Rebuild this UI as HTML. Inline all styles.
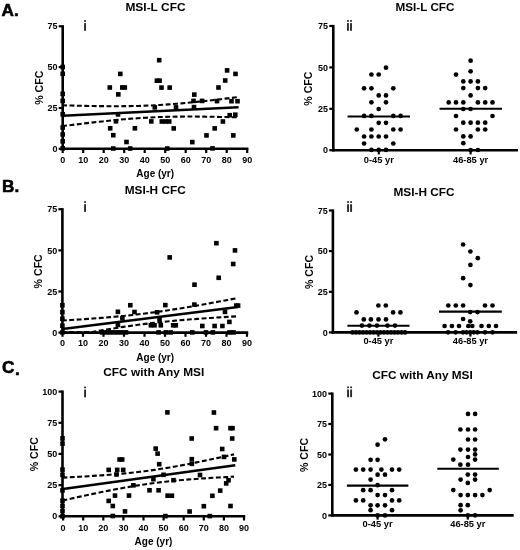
<!DOCTYPE html>
<html><head><meta charset="utf-8"><style>
html,body{margin:0;padding:0;background:#fff;}
svg{display:block;filter:grayscale(1);}
text{font-family:"Liberation Sans", sans-serif;}
</style></head><body>
<svg width="520" height="550" viewBox="0 0 520 550">
<rect width="520" height="550" fill="#fff"/>
<text x="1.6" y="16.2" font-size="17.2" text-anchor="start" font-weight="bold" fill="#000" stroke="#000" stroke-width="0.6">A.</text>
<text x="2.1" y="192.3" font-size="17.2" text-anchor="start" font-weight="bold" fill="#000" stroke="#000" stroke-width="0.6">B.</text>
<text x="2.1" y="372.7" font-size="17.2" text-anchor="start" font-weight="bold" fill="#000" stroke="#000" stroke-width="0.6">C</text>
<text x="14.9" y="375.4" font-size="17.2" text-anchor="start" font-weight="bold" fill="#000" stroke="#000" stroke-width="0.6">.</text>
<text x="155.5" y="10.8" font-size="11.2" text-anchor="middle" font-weight="bold" textLength="60.2" lengthAdjust="spacingAndGlyphs">MSI-L CFC</text>
<rect x="84.10" y="23.10" width="1.9" height="7.7" fill="#2a2a2a"/>
<rect x="84.10" y="20.10" width="1.9" height="1.7" fill="#2a2a2a"/>
<text x="43.0" y="87.7" font-size="10.6" text-anchor="middle" font-weight="bold" transform="rotate(-90 43.0 87.7)">% CFC</text>
<text x="155.2" y="177.0" font-size="10" text-anchor="middle" font-weight="bold" fill="#000" >Age (yr)</text>
<line x1="62.7" y1="25.2" x2="62.7" y2="150.1" stroke="#000" stroke-width="2.6" stroke-linecap="butt"/>
<line x1="58.7" y1="148.8" x2="62.7" y2="148.8" stroke="#000" stroke-width="2.2" />
<text x="57.5" y="151.9" font-size="9" text-anchor="end" font-weight="bold" fill="#000" >0</text>
<line x1="58.7" y1="108.0" x2="62.7" y2="108.0" stroke="#000" stroke-width="2.2" />
<text x="57.5" y="111.1" font-size="9" text-anchor="end" font-weight="bold" fill="#000" >25</text>
<line x1="58.7" y1="67.1" x2="62.7" y2="67.1" stroke="#000" stroke-width="2.2" />
<text x="57.5" y="70.2" font-size="9" text-anchor="end" font-weight="bold" fill="#000" >50</text>
<line x1="58.7" y1="26.3" x2="62.7" y2="26.3" stroke="#000" stroke-width="2.2" />
<text x="57.5" y="29.4" font-size="9" text-anchor="end" font-weight="bold" fill="#000" >75</text>
<line x1="61.4" y1="148.8" x2="248.4" y2="148.8" stroke="#000" stroke-width="2.6" />
<line x1="62.7" y1="148.8" x2="62.7" y2="153.0" stroke="#000" stroke-width="2.2" />
<text x="62.7" y="162.5" font-size="9" text-anchor="middle" font-weight="bold" fill="#000" >0</text>
<line x1="83.2" y1="148.8" x2="83.2" y2="153.0" stroke="#000" stroke-width="2.2" />
<text x="83.2" y="162.5" font-size="9" text-anchor="middle" font-weight="bold" fill="#000" >10</text>
<line x1="103.7" y1="148.8" x2="103.7" y2="153.0" stroke="#000" stroke-width="2.2" />
<text x="103.7" y="162.5" font-size="9" text-anchor="middle" font-weight="bold" fill="#000" >20</text>
<line x1="124.2" y1="148.8" x2="124.2" y2="153.0" stroke="#000" stroke-width="2.2" />
<text x="124.2" y="162.5" font-size="9" text-anchor="middle" font-weight="bold" fill="#000" >30</text>
<line x1="144.7" y1="148.8" x2="144.7" y2="153.0" stroke="#000" stroke-width="2.2" />
<text x="144.7" y="162.5" font-size="9" text-anchor="middle" font-weight="bold" fill="#000" >40</text>
<line x1="165.2" y1="148.8" x2="165.2" y2="153.0" stroke="#000" stroke-width="2.2" />
<text x="165.2" y="162.5" font-size="9" text-anchor="middle" font-weight="bold" fill="#000" >50</text>
<line x1="185.7" y1="148.8" x2="185.7" y2="153.0" stroke="#000" stroke-width="2.2" />
<text x="185.7" y="162.5" font-size="9" text-anchor="middle" font-weight="bold" fill="#000" >60</text>
<line x1="206.2" y1="148.8" x2="206.2" y2="153.0" stroke="#000" stroke-width="2.2" />
<text x="206.2" y="162.5" font-size="9" text-anchor="middle" font-weight="bold" fill="#000" >70</text>
<line x1="226.7" y1="148.8" x2="226.7" y2="153.0" stroke="#000" stroke-width="2.2" />
<text x="226.7" y="162.5" font-size="9" text-anchor="middle" font-weight="bold" fill="#000" >80</text>
<line x1="247.2" y1="148.8" x2="247.2" y2="153.0" stroke="#000" stroke-width="2.2" />
<text x="247.2" y="162.5" font-size="9" text-anchor="middle" font-weight="bold" fill="#000" >90</text>
<polyline points="62.70,105.32 67.10,105.44 71.50,105.56 75.89,105.67 80.29,105.78 84.69,105.88 89.09,105.96 93.48,106.04 97.88,106.10 102.28,106.16 106.67,106.19 111.07,106.22 115.47,106.22 119.87,106.21 124.26,106.17 128.66,106.12 133.06,106.04 137.46,105.93 141.86,105.80 146.25,105.64 150.65,105.45 155.05,105.23 159.44,104.98 163.84,104.71 168.24,104.41 172.64,104.08 177.03,103.72 181.43,103.34 185.83,102.95 190.23,102.53 194.62,102.09 199.02,101.64 203.42,101.17 207.82,100.68 212.21,100.19 216.61,99.69 221.01,99.17 225.41,98.65 229.80,98.11 234.20,97.57 238.60,97.03" fill="none" stroke="#000" stroke-width="2.1" stroke-dasharray="4.9 2.5" stroke-dashoffset="0.6"/>
<polyline points="62.70,126.08 67.10,125.53 71.50,124.99 75.89,124.45 80.29,123.92 84.69,123.40 89.09,122.89 93.48,122.39 97.88,121.90 102.28,121.42 106.67,120.96 111.07,120.51 115.47,120.08 119.87,119.67 124.26,119.28 128.66,118.91 133.06,118.56 137.46,118.24 141.86,117.95 146.25,117.69 150.65,117.45 155.05,117.24 159.44,117.07 163.84,116.92 168.24,116.79 172.64,116.70 177.03,116.63 181.43,116.58 185.83,116.55 190.23,116.55 194.62,116.56 199.02,116.59 203.42,116.63 207.82,116.69 212.21,116.76 216.61,116.84 221.01,116.93 225.41,117.03 229.80,117.14 234.20,117.25 238.60,117.37" fill="none" stroke="#000" stroke-width="2.1" stroke-dasharray="4.9 2.5" stroke-dashoffset="0.6"/>
<polyline points="62.70,115.70 238.60,107.20" fill="none" stroke="#000" stroke-width="2.5"/>
<rect x="60.4" y="64.7" width="4.6" height="4.6"/>
<rect x="60.4" y="71.5" width="4.6" height="4.6"/>
<rect x="60.4" y="91.6" width="4.6" height="4.6"/>
<rect x="60.4" y="98.6" width="4.6" height="4.6"/>
<rect x="60.4" y="112.0" width="4.6" height="4.6"/>
<rect x="60.4" y="125.2" width="4.6" height="4.6"/>
<rect x="60.4" y="132.1" width="4.6" height="4.6"/>
<rect x="60.4" y="139.0" width="4.6" height="4.6"/>
<rect x="60.4" y="146.0" width="4.6" height="4.6"/>
<rect x="107.5" y="85.2" width="4.6" height="4.6"/>
<rect x="107.9" y="126.0" width="4.6" height="4.6"/>
<rect x="111.0" y="132.9" width="4.6" height="4.6"/>
<rect x="111.0" y="146.2" width="4.6" height="4.6"/>
<rect x="118.0" y="71.6" width="4.6" height="4.6"/>
<rect x="120.0" y="85.2" width="4.6" height="4.6"/>
<rect x="122.5" y="85.2" width="4.6" height="4.6"/>
<rect x="116.0" y="92.1" width="4.6" height="4.6"/>
<rect x="115.7" y="112.1" width="4.6" height="4.6"/>
<rect x="113.7" y="119.0" width="4.6" height="4.6"/>
<rect x="124.2" y="139.7" width="4.6" height="4.6"/>
<rect x="127.9" y="146.2" width="4.6" height="4.6"/>
<rect x="132.6" y="126.0" width="4.6" height="4.6"/>
<rect x="149.0" y="119.1" width="4.6" height="4.6"/>
<rect x="152.5" y="105.1" width="4.6" height="4.6"/>
<rect x="156.9" y="57.9" width="4.6" height="4.6"/>
<rect x="154.6" y="78.4" width="4.6" height="4.6"/>
<rect x="157.3" y="78.4" width="4.6" height="4.6"/>
<rect x="159.2" y="85.3" width="4.6" height="4.6"/>
<rect x="159.5" y="119.2" width="4.6" height="4.6"/>
<rect x="163.2" y="119.2" width="4.6" height="4.6"/>
<rect x="166.9" y="119.2" width="4.6" height="4.6"/>
<rect x="167.4" y="85.3" width="4.6" height="4.6"/>
<rect x="173.7" y="105.1" width="4.6" height="4.6"/>
<rect x="171.4" y="126.1" width="4.6" height="4.6"/>
<rect x="165.0" y="146.2" width="4.6" height="4.6"/>
<rect x="192.0" y="92.3" width="4.6" height="4.6"/>
<rect x="191.2" y="98.6" width="4.6" height="4.6"/>
<rect x="199.8" y="98.6" width="4.6" height="4.6"/>
<rect x="191.7" y="104.8" width="4.6" height="4.6"/>
<rect x="190.0" y="139.8" width="4.6" height="4.6"/>
<rect x="204.2" y="133.1" width="4.6" height="4.6"/>
<rect x="212.4" y="126.1" width="4.6" height="4.6"/>
<rect x="210.2" y="146.1" width="4.6" height="4.6"/>
<rect x="216.2" y="85.2" width="4.6" height="4.6"/>
<rect x="224.8" y="68.1" width="4.6" height="4.6"/>
<rect x="233.2" y="71.6" width="4.6" height="4.6"/>
<rect x="222.9" y="78.2" width="4.6" height="4.6"/>
<rect x="214.7" y="98.8" width="4.6" height="4.6"/>
<rect x="229.2" y="98.9" width="4.6" height="4.6"/>
<rect x="235.2" y="98.9" width="4.6" height="4.6"/>
<rect x="227.4" y="112.9" width="4.6" height="4.6"/>
<rect x="233.0" y="112.4" width="4.6" height="4.6"/>
<rect x="220.6" y="119.2" width="4.6" height="4.6"/>
<rect x="231.0" y="133.1" width="4.6" height="4.6"/>
<text x="425.0" y="10.8" font-size="11.2" text-anchor="middle" font-weight="bold" textLength="58.8" lengthAdjust="spacingAndGlyphs">MSI-L CFC</text>
<rect x="347.00" y="23.10" width="1.9" height="7.7" fill="#2a2a2a"/>
<rect x="347.00" y="20.10" width="1.9" height="1.7" fill="#2a2a2a"/>
<rect x="350.05" y="23.10" width="1.9" height="7.7" fill="#2a2a2a"/>
<rect x="350.05" y="20.10" width="1.9" height="1.7" fill="#2a2a2a"/>
<text x="312.2" y="88.6" font-size="10.6" text-anchor="middle" font-weight="bold" transform="rotate(-90 312.2 88.6)">% CFC</text>
<line x1="333.3" y1="24.9" x2="333.3" y2="151.5" stroke="#000" stroke-width="2.6" stroke-linecap="butt"/>
<line x1="329.3" y1="150.2" x2="333.3" y2="150.2" stroke="#000" stroke-width="2.2" />
<text x="328.1" y="153.3" font-size="9" text-anchor="end" font-weight="bold" fill="#000" >0</text>
<line x1="329.3" y1="108.8" x2="333.3" y2="108.8" stroke="#000" stroke-width="2.2" />
<text x="328.1" y="111.9" font-size="9" text-anchor="end" font-weight="bold" fill="#000" >25</text>
<line x1="329.3" y1="67.4" x2="333.3" y2="67.4" stroke="#000" stroke-width="2.2" />
<text x="328.1" y="70.5" font-size="9" text-anchor="end" font-weight="bold" fill="#000" >50</text>
<line x1="329.3" y1="26.0" x2="333.3" y2="26.0" stroke="#000" stroke-width="2.2" />
<text x="328.1" y="29.1" font-size="9" text-anchor="end" font-weight="bold" fill="#000" >75</text>
<line x1="332.0" y1="150.2" x2="518.0" y2="150.2" stroke="#000" stroke-width="2.6" />
<line x1="378.8" y1="150.2" x2="378.8" y2="154.4" stroke="#000" stroke-width="2.2" />
<text x="378.8" y="163.0" font-size="9.3" text-anchor="middle" font-weight="bold" fill="#000" >0-45 yr</text>
<line x1="470.6" y1="150.2" x2="470.6" y2="154.4" stroke="#000" stroke-width="2.2" />
<text x="470.6" y="163.0" font-size="9.3" text-anchor="middle" font-weight="bold" fill="#000" >46-85 yr</text>
<circle cx="386.0" cy="67.7" r="2.35"/>
<circle cx="371.4" cy="74.5" r="2.35"/>
<circle cx="378.7" cy="74.5" r="2.35"/>
<circle cx="364.1" cy="88.3" r="2.35"/>
<circle cx="371.4" cy="88.3" r="2.35"/>
<circle cx="393.3" cy="88.3" r="2.35"/>
<circle cx="378.7" cy="95.4" r="2.35"/>
<circle cx="386.0" cy="95.4" r="2.35"/>
<circle cx="371.4" cy="102.3" r="2.35"/>
<circle cx="386.0" cy="102.3" r="2.35"/>
<circle cx="378.7" cy="109.0" r="2.35"/>
<circle cx="364.1" cy="115.9" r="2.35"/>
<circle cx="371.4" cy="115.9" r="2.35"/>
<circle cx="393.3" cy="115.9" r="2.35"/>
<circle cx="400.6" cy="115.9" r="2.35"/>
<circle cx="378.7" cy="122.8" r="2.35"/>
<circle cx="386.0" cy="122.8" r="2.35"/>
<circle cx="356.8" cy="129.5" r="2.35"/>
<circle cx="371.4" cy="129.5" r="2.35"/>
<circle cx="393.3" cy="129.5" r="2.35"/>
<circle cx="400.6" cy="129.5" r="2.35"/>
<circle cx="364.1" cy="136.5" r="2.35"/>
<circle cx="371.4" cy="136.5" r="2.35"/>
<circle cx="378.7" cy="136.5" r="2.35"/>
<circle cx="386.0" cy="136.5" r="2.35"/>
<circle cx="364.1" cy="143.5" r="2.35"/>
<circle cx="393.3" cy="143.5" r="2.35"/>
<circle cx="371.4" cy="149.9" r="2.35"/>
<circle cx="378.7" cy="149.9" r="2.35"/>
<circle cx="386.0" cy="149.9" r="2.35"/>
<line x1="347.6" y1="116.5" x2="410.0" y2="116.5" stroke="#000" stroke-width="2.1" />
<circle cx="470.6" cy="60.7" r="2.35"/>
<circle cx="470.6" cy="71.3" r="2.35"/>
<circle cx="456.0" cy="74.6" r="2.35"/>
<circle cx="463.3" cy="81.4" r="2.35"/>
<circle cx="470.6" cy="81.4" r="2.35"/>
<circle cx="477.9" cy="81.4" r="2.35"/>
<circle cx="463.3" cy="88.1" r="2.35"/>
<circle cx="477.9" cy="88.1" r="2.35"/>
<circle cx="485.2" cy="88.1" r="2.35"/>
<circle cx="470.6" cy="95.4" r="2.35"/>
<circle cx="448.7" cy="102.4" r="2.35"/>
<circle cx="456.0" cy="102.4" r="2.35"/>
<circle cx="463.3" cy="102.4" r="2.35"/>
<circle cx="477.9" cy="102.4" r="2.35"/>
<circle cx="485.2" cy="102.4" r="2.35"/>
<circle cx="492.5" cy="102.4" r="2.35"/>
<circle cx="463.3" cy="109.0" r="2.35"/>
<circle cx="470.6" cy="109.0" r="2.35"/>
<circle cx="456.0" cy="116.0" r="2.35"/>
<circle cx="492.5" cy="116.0" r="2.35"/>
<circle cx="463.3" cy="122.7" r="2.35"/>
<circle cx="470.6" cy="122.7" r="2.35"/>
<circle cx="477.9" cy="122.7" r="2.35"/>
<circle cx="485.2" cy="122.7" r="2.35"/>
<circle cx="456.0" cy="129.5" r="2.35"/>
<circle cx="477.9" cy="129.5" r="2.35"/>
<circle cx="485.2" cy="129.5" r="2.35"/>
<circle cx="463.3" cy="136.4" r="2.35"/>
<circle cx="470.6" cy="136.4" r="2.35"/>
<circle cx="463.3" cy="143.2" r="2.35"/>
<circle cx="470.6" cy="150.0" r="2.35"/>
<circle cx="477.9" cy="150.0" r="2.35"/>
<line x1="439.5" y1="108.7" x2="502.0" y2="108.7" stroke="#000" stroke-width="2.1" />
<text x="155.2" y="194.3" font-size="11.2" text-anchor="middle" font-weight="bold" textLength="61.0" lengthAdjust="spacingAndGlyphs">MSI-H CFC</text>
<rect x="84.10" y="204.20" width="1.9" height="7.7" fill="#2a2a2a"/>
<rect x="84.10" y="201.20" width="1.9" height="1.7" fill="#2a2a2a"/>
<text x="42.2" y="271.3" font-size="10.6" text-anchor="middle" font-weight="bold" transform="rotate(-90 42.2 271.3)">% CFC</text>
<text x="155.2" y="361.3" font-size="10" text-anchor="middle" font-weight="bold" fill="#000" >Age (yr)</text>
<line x1="62.4" y1="208.1" x2="62.4" y2="333.9" stroke="#000" stroke-width="2.6" stroke-linecap="butt"/>
<line x1="58.4" y1="332.6" x2="62.4" y2="332.6" stroke="#000" stroke-width="2.2" />
<text x="57.2" y="335.7" font-size="9" text-anchor="end" font-weight="bold" fill="#000" >0</text>
<line x1="58.4" y1="291.5" x2="62.4" y2="291.5" stroke="#000" stroke-width="2.2" />
<text x="57.2" y="294.6" font-size="9" text-anchor="end" font-weight="bold" fill="#000" >25</text>
<line x1="58.4" y1="250.4" x2="62.4" y2="250.4" stroke="#000" stroke-width="2.2" />
<text x="57.2" y="253.5" font-size="9" text-anchor="end" font-weight="bold" fill="#000" >50</text>
<line x1="58.4" y1="209.2" x2="62.4" y2="209.2" stroke="#000" stroke-width="2.2" />
<text x="57.2" y="212.3" font-size="9" text-anchor="end" font-weight="bold" fill="#000" >75</text>
<line x1="61.1" y1="332.6" x2="248.2" y2="332.6" stroke="#000" stroke-width="2.6" />
<line x1="62.5" y1="332.6" x2="62.5" y2="336.8" stroke="#000" stroke-width="2.2" />
<text x="62.5" y="346.4" font-size="9" text-anchor="middle" font-weight="bold" fill="#000" >0</text>
<line x1="83.0" y1="332.6" x2="83.0" y2="336.8" stroke="#000" stroke-width="2.2" />
<text x="83.0" y="346.4" font-size="9" text-anchor="middle" font-weight="bold" fill="#000" >10</text>
<line x1="103.5" y1="332.6" x2="103.5" y2="336.8" stroke="#000" stroke-width="2.2" />
<text x="103.5" y="346.4" font-size="9" text-anchor="middle" font-weight="bold" fill="#000" >20</text>
<line x1="124.0" y1="332.6" x2="124.0" y2="336.8" stroke="#000" stroke-width="2.2" />
<text x="124.0" y="346.4" font-size="9" text-anchor="middle" font-weight="bold" fill="#000" >30</text>
<line x1="144.5" y1="332.6" x2="144.5" y2="336.8" stroke="#000" stroke-width="2.2" />
<text x="144.5" y="346.4" font-size="9" text-anchor="middle" font-weight="bold" fill="#000" >40</text>
<line x1="165.0" y1="332.6" x2="165.0" y2="336.8" stroke="#000" stroke-width="2.2" />
<text x="165.0" y="346.4" font-size="9" text-anchor="middle" font-weight="bold" fill="#000" >50</text>
<line x1="185.5" y1="332.6" x2="185.5" y2="336.8" stroke="#000" stroke-width="2.2" />
<text x="185.5" y="346.4" font-size="9" text-anchor="middle" font-weight="bold" fill="#000" >60</text>
<line x1="206.0" y1="332.6" x2="206.0" y2="336.8" stroke="#000" stroke-width="2.2" />
<text x="206.0" y="346.4" font-size="9" text-anchor="middle" font-weight="bold" fill="#000" >70</text>
<line x1="226.5" y1="332.6" x2="226.5" y2="336.8" stroke="#000" stroke-width="2.2" />
<text x="226.5" y="346.4" font-size="9" text-anchor="middle" font-weight="bold" fill="#000" >80</text>
<line x1="247.0" y1="332.6" x2="247.0" y2="336.8" stroke="#000" stroke-width="2.2" />
<text x="247.0" y="346.4" font-size="9" text-anchor="middle" font-weight="bold" fill="#000" >90</text>
<polyline points="62.50,320.56 66.85,320.29 71.20,320.02 75.55,319.73 79.90,319.44 84.25,319.15 88.60,318.84 92.95,318.52 97.30,318.20 101.65,317.86 106.00,317.50 110.35,317.13 114.70,316.75 119.05,316.35 123.40,315.92 127.75,315.48 132.10,315.02 136.45,314.54 140.80,314.03 145.15,313.50 149.50,312.94 153.85,312.36 158.20,311.76 162.55,311.14 166.90,310.49 171.25,309.83 175.60,309.14 179.95,308.44 184.30,307.72 188.65,306.99 193.00,306.25 197.35,305.49 201.70,304.72 206.05,303.94 210.40,303.15 214.75,302.36 219.10,301.55 223.45,300.74 227.80,299.93 232.15,299.10 236.50,298.28" fill="none" stroke="#000" stroke-width="2.1" stroke-dasharray="4.9 2.5" stroke-dashoffset="0.6"/>
<polyline points="62.50,332.10 66.85,332.10 71.20,332.10 75.55,332.10 79.90,332.10 84.25,332.10 88.60,332.10 92.95,331.88 97.30,331.12 101.65,330.38 106.00,329.65 110.35,328.93 114.70,328.23 119.05,327.55 123.40,326.89 127.75,326.24 132.10,325.62 136.45,325.02 140.80,324.44 145.15,323.89 149.50,323.36 153.85,322.85 158.20,322.37 162.55,321.91 166.90,321.47 171.25,321.05 175.60,320.65 179.95,320.26 184.30,319.90 188.65,319.54 193.00,319.20 197.35,318.88 201.70,318.56 206.05,318.25 210.40,317.96 214.75,317.67 219.10,317.39 223.45,317.11 227.80,316.84 232.15,316.58 236.50,316.32" fill="none" stroke="#000" stroke-width="2.1" stroke-dasharray="4.9 2.5" stroke-dashoffset="0.6"/>
<polyline points="62.50,329.00 238.00,307.10" fill="none" stroke="#000" stroke-width="2.5"/>
<rect x="60.1" y="302.9" width="4.6" height="4.6"/>
<rect x="60.1" y="309.9" width="4.6" height="4.6"/>
<rect x="60.1" y="316.4" width="4.6" height="4.6"/>
<rect x="60.1" y="323.4" width="4.6" height="4.6"/>
<rect x="60.1" y="330.1" width="4.6" height="4.6"/>
<rect x="115.6" y="309.5" width="4.6" height="4.6"/>
<rect x="128.0" y="302.9" width="4.6" height="4.6"/>
<rect x="132.2" y="309.7" width="4.6" height="4.6"/>
<rect x="120.1" y="316.0" width="4.6" height="4.6"/>
<rect x="115.6" y="322.6" width="4.6" height="4.6"/>
<rect x="99.7" y="330.1" width="4.6" height="4.6"/>
<rect x="103.7" y="330.1" width="4.6" height="4.6"/>
<rect x="107.7" y="330.1" width="4.6" height="4.6"/>
<rect x="111.7" y="330.1" width="4.6" height="4.6"/>
<rect x="115.7" y="330.1" width="4.6" height="4.6"/>
<rect x="119.7" y="330.1" width="4.6" height="4.6"/>
<rect x="123.7" y="330.1" width="4.6" height="4.6"/>
<rect x="148.6" y="323.0" width="4.6" height="4.6"/>
<rect x="152.2" y="323.0" width="4.6" height="4.6"/>
<rect x="154.8" y="310.0" width="4.6" height="4.6"/>
<rect x="157.2" y="317.0" width="4.6" height="4.6"/>
<rect x="158.5" y="323.0" width="4.6" height="4.6"/>
<rect x="163.0" y="302.8" width="4.6" height="4.6"/>
<rect x="170.9" y="323.0" width="4.6" height="4.6"/>
<rect x="173.5" y="323.0" width="4.6" height="4.6"/>
<rect x="156.3" y="330.1" width="4.6" height="4.6"/>
<rect x="163.5" y="330.1" width="4.6" height="4.6"/>
<rect x="168.3" y="330.1" width="4.6" height="4.6"/>
<rect x="167.4" y="255.1" width="4.6" height="4.6"/>
<rect x="192.2" y="282.4" width="4.6" height="4.6"/>
<rect x="192.1" y="302.3" width="4.6" height="4.6"/>
<rect x="200.0" y="323.7" width="4.6" height="4.6"/>
<rect x="212.3" y="323.7" width="4.6" height="4.6"/>
<rect x="220.1" y="323.7" width="4.6" height="4.6"/>
<rect x="189.9" y="330.1" width="4.6" height="4.6"/>
<rect x="203.7" y="330.1" width="4.6" height="4.6"/>
<rect x="210.5" y="330.1" width="4.6" height="4.6"/>
<rect x="227.2" y="330.1" width="4.6" height="4.6"/>
<rect x="231.2" y="330.1" width="4.6" height="4.6"/>
<rect x="214.1" y="240.9" width="4.6" height="4.6"/>
<rect x="232.7" y="248.1" width="4.6" height="4.6"/>
<rect x="230.9" y="261.7" width="4.6" height="4.6"/>
<rect x="216.4" y="275.5" width="4.6" height="4.6"/>
<rect x="222.7" y="309.6" width="4.6" height="4.6"/>
<rect x="227.1" y="319.6" width="4.6" height="4.6"/>
<rect x="234.0" y="303.3" width="4.6" height="4.6"/>
<rect x="235.8" y="303.3" width="4.6" height="4.6"/>
<text x="424.0" y="196.3" font-size="11.2" text-anchor="middle" font-weight="bold" textLength="61.0" lengthAdjust="spacingAndGlyphs">MSI-H CFC</text>
<rect x="347.10" y="204.20" width="1.9" height="7.7" fill="#2a2a2a"/>
<rect x="347.10" y="201.20" width="1.9" height="1.7" fill="#2a2a2a"/>
<rect x="350.15" y="204.20" width="1.9" height="7.7" fill="#2a2a2a"/>
<rect x="350.15" y="201.20" width="1.9" height="1.7" fill="#2a2a2a"/>
<text x="312.5" y="272.0" font-size="10.6" text-anchor="middle" font-weight="bold" transform="rotate(-90 312.5 272.0)">% CFC</text>
<line x1="332.9" y1="209.4" x2="332.9" y2="333.7" stroke="#000" stroke-width="2.6" stroke-linecap="butt"/>
<line x1="328.9" y1="332.4" x2="332.9" y2="332.4" stroke="#000" stroke-width="2.2" />
<text x="327.7" y="335.5" font-size="9" text-anchor="end" font-weight="bold" fill="#000" >0</text>
<line x1="328.9" y1="291.8" x2="332.9" y2="291.8" stroke="#000" stroke-width="2.2" />
<text x="327.7" y="294.9" font-size="9" text-anchor="end" font-weight="bold" fill="#000" >25</text>
<line x1="328.9" y1="251.1" x2="332.9" y2="251.1" stroke="#000" stroke-width="2.2" />
<text x="327.7" y="254.2" font-size="9" text-anchor="end" font-weight="bold" fill="#000" >50</text>
<line x1="328.9" y1="210.5" x2="332.9" y2="210.5" stroke="#000" stroke-width="2.2" />
<text x="327.7" y="213.6" font-size="9" text-anchor="end" font-weight="bold" fill="#000" >75</text>
<line x1="331.6" y1="332.4" x2="517.1" y2="332.4" stroke="#000" stroke-width="2.6" />
<line x1="378.4" y1="332.4" x2="378.4" y2="336.6" stroke="#000" stroke-width="2.2" />
<text x="378.4" y="344.0" font-size="9.3" text-anchor="middle" font-weight="bold" fill="#000" >0-45 yr</text>
<line x1="470.4" y1="332.4" x2="470.4" y2="336.6" stroke="#000" stroke-width="2.2" />
<text x="470.4" y="344.0" font-size="9.3" text-anchor="middle" font-weight="bold" fill="#000" >46-85 yr</text>
<circle cx="378.4" cy="305.5" r="2.35"/>
<circle cx="385.8" cy="305.5" r="2.35"/>
<circle cx="356.5" cy="312.4" r="2.35"/>
<circle cx="393.1" cy="312.4" r="2.35"/>
<circle cx="400.4" cy="312.4" r="2.35"/>
<circle cx="363.8" cy="319.4" r="2.35"/>
<circle cx="370.9" cy="319.4" r="2.35"/>
<circle cx="378.5" cy="319.4" r="2.35"/>
<circle cx="386.0" cy="319.4" r="2.35"/>
<circle cx="361.9" cy="325.6" r="2.35"/>
<circle cx="369.4" cy="325.6" r="2.35"/>
<circle cx="376.9" cy="325.6" r="2.35"/>
<circle cx="387.5" cy="325.6" r="2.35"/>
<circle cx="395.0" cy="325.6" r="2.35"/>
<circle cx="352.5" cy="332.4" r="2.35"/>
<circle cx="356.0" cy="332.4" r="2.35"/>
<circle cx="359.5" cy="332.4" r="2.35"/>
<circle cx="363.0" cy="332.4" r="2.35"/>
<circle cx="366.5" cy="332.4" r="2.35"/>
<circle cx="370.0" cy="332.4" r="2.35"/>
<circle cx="373.5" cy="332.4" r="2.35"/>
<circle cx="377.0" cy="332.4" r="2.35"/>
<circle cx="380.5" cy="332.4" r="2.35"/>
<circle cx="384.0" cy="332.4" r="2.35"/>
<circle cx="387.5" cy="332.4" r="2.35"/>
<circle cx="391.0" cy="332.4" r="2.35"/>
<circle cx="394.5" cy="332.4" r="2.35"/>
<circle cx="398.0" cy="332.4" r="2.35"/>
<circle cx="401.5" cy="332.4" r="2.35"/>
<circle cx="405.0" cy="332.4" r="2.35"/>
<line x1="347.4" y1="325.8" x2="409.5" y2="325.8" stroke="#000" stroke-width="2.1" />
<circle cx="463.1" cy="244.5" r="2.35"/>
<circle cx="470.4" cy="251.5" r="2.35"/>
<circle cx="477.8" cy="258.2" r="2.35"/>
<circle cx="470.4" cy="264.9" r="2.35"/>
<circle cx="463.1" cy="278.2" r="2.35"/>
<circle cx="470.4" cy="285.1" r="2.35"/>
<circle cx="448.3" cy="305.5" r="2.35"/>
<circle cx="455.8" cy="305.5" r="2.35"/>
<circle cx="463.1" cy="305.5" r="2.35"/>
<circle cx="485.0" cy="305.5" r="2.35"/>
<circle cx="492.5" cy="305.5" r="2.35"/>
<circle cx="470.2" cy="312.1" r="2.35"/>
<circle cx="477.5" cy="312.1" r="2.35"/>
<circle cx="463.1" cy="319.0" r="2.35"/>
<circle cx="470.2" cy="321.3" r="2.35"/>
<circle cx="444.6" cy="326.0" r="2.35"/>
<circle cx="451.9" cy="326.0" r="2.35"/>
<circle cx="459.0" cy="326.0" r="2.35"/>
<circle cx="468.3" cy="326.0" r="2.35"/>
<circle cx="472.3" cy="326.0" r="2.35"/>
<circle cx="481.5" cy="326.0" r="2.35"/>
<circle cx="488.8" cy="326.0" r="2.35"/>
<circle cx="496.0" cy="326.0" r="2.35"/>
<circle cx="448.1" cy="332.3" r="2.35"/>
<circle cx="455.6" cy="332.3" r="2.35"/>
<circle cx="463.1" cy="332.3" r="2.35"/>
<circle cx="466.6" cy="332.3" r="2.35"/>
<circle cx="470.2" cy="332.3" r="2.35"/>
<circle cx="473.8" cy="332.3" r="2.35"/>
<circle cx="477.5" cy="332.3" r="2.35"/>
<circle cx="485.0" cy="332.3" r="2.35"/>
<circle cx="492.5" cy="332.3" r="2.35"/>
<line x1="439.0" y1="311.6" x2="501.8" y2="311.6" stroke="#000" stroke-width="2.1" />
<text x="153.8" y="376.4" font-size="11.2" text-anchor="middle" font-weight="bold" textLength="101.0" lengthAdjust="spacingAndGlyphs">CFC with Any MSI</text>
<rect x="84.10" y="389.60" width="1.9" height="7.7" fill="#2a2a2a"/>
<rect x="84.10" y="386.60" width="1.9" height="1.7" fill="#2a2a2a"/>
<text x="37.7" y="454.2" font-size="10.6" text-anchor="middle" font-weight="bold" transform="rotate(-90 37.7 454.2)">% CFC</text>
<text x="153.5" y="545.3" font-size="10" text-anchor="middle" font-weight="bold" fill="#000" >Age (yr)</text>
<line x1="62.5" y1="390.5" x2="62.5" y2="517.6" stroke="#000" stroke-width="2.6" stroke-linecap="butt"/>
<line x1="58.5" y1="516.3" x2="62.5" y2="516.3" stroke="#000" stroke-width="2.2" />
<text x="57.3" y="519.4" font-size="9" text-anchor="end" font-weight="bold" fill="#000" >0</text>
<line x1="58.5" y1="485.1" x2="62.5" y2="485.1" stroke="#000" stroke-width="2.2" />
<text x="57.3" y="488.2" font-size="9" text-anchor="end" font-weight="bold" fill="#000" >25</text>
<line x1="58.5" y1="453.9" x2="62.5" y2="453.9" stroke="#000" stroke-width="2.2" />
<text x="57.3" y="457.0" font-size="9" text-anchor="end" font-weight="bold" fill="#000" >50</text>
<line x1="58.5" y1="422.8" x2="62.5" y2="422.8" stroke="#000" stroke-width="2.2" />
<text x="57.3" y="425.9" font-size="9" text-anchor="end" font-weight="bold" fill="#000" >75</text>
<line x1="58.5" y1="391.6" x2="62.5" y2="391.6" stroke="#000" stroke-width="2.2" />
<text x="57.3" y="394.7" font-size="9" text-anchor="end" font-weight="bold" fill="#000" >100</text>
<line x1="61.2" y1="516.3" x2="245.2" y2="516.3" stroke="#000" stroke-width="2.6" />
<line x1="63.1" y1="516.3" x2="63.1" y2="520.5" stroke="#000" stroke-width="2.2" />
<text x="63.1" y="530.5" font-size="9" text-anchor="middle" font-weight="bold" fill="#000" >0</text>
<line x1="83.2" y1="516.3" x2="83.2" y2="520.5" stroke="#000" stroke-width="2.2" />
<text x="83.2" y="530.5" font-size="9" text-anchor="middle" font-weight="bold" fill="#000" >10</text>
<line x1="103.3" y1="516.3" x2="103.3" y2="520.5" stroke="#000" stroke-width="2.2" />
<text x="103.3" y="530.5" font-size="9" text-anchor="middle" font-weight="bold" fill="#000" >20</text>
<line x1="123.4" y1="516.3" x2="123.4" y2="520.5" stroke="#000" stroke-width="2.2" />
<text x="123.4" y="530.5" font-size="9" text-anchor="middle" font-weight="bold" fill="#000" >30</text>
<line x1="143.5" y1="516.3" x2="143.5" y2="520.5" stroke="#000" stroke-width="2.2" />
<text x="143.5" y="530.5" font-size="9" text-anchor="middle" font-weight="bold" fill="#000" >40</text>
<line x1="163.6" y1="516.3" x2="163.6" y2="520.5" stroke="#000" stroke-width="2.2" />
<text x="163.6" y="530.5" font-size="9" text-anchor="middle" font-weight="bold" fill="#000" >50</text>
<line x1="183.7" y1="516.3" x2="183.7" y2="520.5" stroke="#000" stroke-width="2.2" />
<text x="183.7" y="530.5" font-size="9" text-anchor="middle" font-weight="bold" fill="#000" >60</text>
<line x1="203.8" y1="516.3" x2="203.8" y2="520.5" stroke="#000" stroke-width="2.2" />
<text x="203.8" y="530.5" font-size="9" text-anchor="middle" font-weight="bold" fill="#000" >70</text>
<line x1="223.9" y1="516.3" x2="223.9" y2="520.5" stroke="#000" stroke-width="2.2" />
<text x="223.9" y="530.5" font-size="9" text-anchor="middle" font-weight="bold" fill="#000" >80</text>
<line x1="244.0" y1="516.3" x2="244.0" y2="520.5" stroke="#000" stroke-width="2.2" />
<text x="244.0" y="530.5" font-size="9" text-anchor="middle" font-weight="bold" fill="#000" >90</text>
<polyline points="63.00,477.60 67.28,477.38 71.55,477.16 75.83,476.93 80.10,476.69 84.38,476.44 88.65,476.19 92.92,475.92 97.20,475.64 101.47,475.34 105.75,475.03 110.03,474.70 114.30,474.36 118.58,473.99 122.85,473.60 127.12,473.19 131.40,472.75 135.68,472.28 139.95,471.78 144.22,471.25 148.50,470.69 152.78,470.10 157.05,469.47 161.32,468.82 165.60,468.13 169.88,467.42 174.15,466.67 178.43,465.91 182.70,465.11 186.97,464.30 191.25,463.47 195.53,462.61 199.80,461.74 204.07,460.86 208.35,459.96 212.62,459.05 216.90,458.13 221.18,457.20 225.45,456.26 229.72,455.31 234.00,454.36" fill="none" stroke="#000" stroke-width="2.1" stroke-dasharray="4.9 2.5" stroke-dashoffset="0.6"/>
<polyline points="63.00,500.40 67.28,499.44 71.55,498.49 75.83,497.55 80.10,496.61 84.38,495.68 88.65,494.76 92.92,493.86 97.20,492.96 101.47,492.08 105.75,491.22 110.03,490.37 114.30,489.54 118.58,488.74 122.85,487.95 127.12,487.19 131.40,486.45 135.68,485.75 139.95,485.07 144.22,484.42 148.50,483.81 152.78,483.23 157.05,482.68 161.32,482.16 165.60,481.67 169.88,481.21 174.15,480.78 178.43,480.37 182.70,479.99 186.97,479.63 191.25,479.28 195.53,478.96 199.80,478.66 204.07,478.37 208.35,478.09 212.62,477.82 216.90,477.57 221.18,477.33 225.45,477.09 229.72,476.86 234.00,476.64" fill="none" stroke="#000" stroke-width="2.1" stroke-dasharray="4.9 2.5" stroke-dashoffset="0.6"/>
<polyline points="63.00,489.00 235.30,465.30" fill="none" stroke="#000" stroke-width="2.5"/>
<rect x="60.2" y="436.1" width="4.6" height="4.6"/>
<rect x="60.2" y="441.3" width="4.6" height="4.6"/>
<rect x="60.2" y="467.3" width="4.6" height="4.6"/>
<rect x="60.2" y="472.5" width="4.6" height="4.6"/>
<rect x="60.2" y="488.1" width="4.6" height="4.6"/>
<rect x="60.2" y="498.4" width="4.6" height="4.6"/>
<rect x="60.2" y="503.6" width="4.6" height="4.6"/>
<rect x="60.2" y="508.8" width="4.6" height="4.6"/>
<rect x="60.2" y="514.0" width="4.6" height="4.6"/>
<rect x="106.4" y="467.6" width="4.6" height="4.6"/>
<rect x="114.9" y="467.6" width="4.6" height="4.6"/>
<rect x="120.9" y="467.6" width="4.6" height="4.6"/>
<rect x="117.3" y="457.2" width="4.6" height="4.6"/>
<rect x="119.9" y="457.2" width="4.6" height="4.6"/>
<rect x="114.2" y="472.2" width="4.6" height="4.6"/>
<rect x="131.1" y="483.0" width="4.6" height="4.6"/>
<rect x="151.1" y="476.9" width="4.6" height="4.6"/>
<rect x="147.2" y="488.0" width="4.6" height="4.6"/>
<rect x="156.3" y="488.0" width="4.6" height="4.6"/>
<rect x="112.7" y="493.3" width="4.6" height="4.6"/>
<rect x="126.7" y="493.3" width="4.6" height="4.6"/>
<rect x="106.4" y="498.6" width="4.6" height="4.6"/>
<rect x="110.5" y="503.7" width="4.6" height="4.6"/>
<rect x="122.7" y="509.1" width="4.6" height="4.6"/>
<rect x="110.5" y="513.7" width="4.6" height="4.6"/>
<rect x="153.4" y="446.3" width="4.6" height="4.6"/>
<rect x="155.3" y="451.3" width="4.6" height="4.6"/>
<rect x="156.9" y="461.9" width="4.6" height="4.6"/>
<rect x="165.1" y="410.1" width="4.6" height="4.6"/>
<rect x="189.4" y="436.2" width="4.6" height="4.6"/>
<rect x="189.5" y="456.9" width="4.6" height="4.6"/>
<rect x="189.5" y="461.5" width="4.6" height="4.6"/>
<rect x="161.2" y="472.5" width="4.6" height="4.6"/>
<rect x="197.7" y="472.7" width="4.6" height="4.6"/>
<rect x="171.2" y="477.9" width="4.6" height="4.6"/>
<rect x="165.3" y="493.4" width="4.6" height="4.6"/>
<rect x="169.6" y="493.4" width="4.6" height="4.6"/>
<rect x="201.5" y="503.9" width="4.6" height="4.6"/>
<rect x="187.3" y="509.2" width="4.6" height="4.6"/>
<rect x="163.1" y="513.8" width="4.6" height="4.6"/>
<rect x="207.5" y="513.8" width="4.6" height="4.6"/>
<rect x="211.6" y="410.2" width="4.6" height="4.6"/>
<rect x="213.8" y="425.9" width="4.6" height="4.6"/>
<rect x="228.2" y="425.9" width="4.6" height="4.6"/>
<rect x="230.2" y="425.9" width="4.6" height="4.6"/>
<rect x="229.9" y="436.2" width="4.6" height="4.6"/>
<rect x="219.9" y="446.7" width="4.6" height="4.6"/>
<rect x="221.7" y="454.6" width="4.6" height="4.6"/>
<rect x="232.0" y="457.1" width="4.6" height="4.6"/>
<rect x="226.2" y="478.0" width="4.6" height="4.6"/>
<rect x="223.9" y="481.1" width="4.6" height="4.6"/>
<rect x="217.9" y="488.3" width="4.6" height="4.6"/>
<rect x="210.1" y="493.5" width="4.6" height="4.6"/>
<rect x="228.2" y="503.7" width="4.6" height="4.6"/>
<text x="422.5" y="379.0" font-size="11.2" text-anchor="middle" font-weight="bold" textLength="100.4" lengthAdjust="spacingAndGlyphs">CFC with Any MSI</text>
<rect x="347.10" y="389.50" width="1.9" height="7.7" fill="#2a2a2a"/>
<rect x="347.10" y="386.50" width="1.9" height="1.7" fill="#2a2a2a"/>
<rect x="350.15" y="389.50" width="1.9" height="7.7" fill="#2a2a2a"/>
<rect x="350.15" y="386.50" width="1.9" height="1.7" fill="#2a2a2a"/>
<text x="308.0" y="455.0" font-size="10.6" text-anchor="middle" font-weight="bold" transform="rotate(-90 308.0 455.0)">% CFC</text>
<line x1="332.3" y1="392.5" x2="332.3" y2="516.7" stroke="#000" stroke-width="2.6" stroke-linecap="butt"/>
<line x1="328.3" y1="515.4" x2="332.3" y2="515.4" stroke="#000" stroke-width="2.2" />
<text x="327.1" y="518.5" font-size="9" text-anchor="end" font-weight="bold" fill="#000" >0</text>
<line x1="328.3" y1="484.9" x2="332.3" y2="484.9" stroke="#000" stroke-width="2.2" />
<text x="327.1" y="488.1" font-size="9" text-anchor="end" font-weight="bold" fill="#000" >25</text>
<line x1="328.3" y1="454.5" x2="332.3" y2="454.5" stroke="#000" stroke-width="2.2" />
<text x="327.1" y="457.6" font-size="9" text-anchor="end" font-weight="bold" fill="#000" >50</text>
<line x1="328.3" y1="424.0" x2="332.3" y2="424.0" stroke="#000" stroke-width="2.2" />
<text x="327.1" y="427.1" font-size="9" text-anchor="end" font-weight="bold" fill="#000" >75</text>
<line x1="328.3" y1="393.6" x2="332.3" y2="393.6" stroke="#000" stroke-width="2.2" />
<text x="327.1" y="396.7" font-size="9" text-anchor="end" font-weight="bold" fill="#000" >100</text>
<line x1="331.0" y1="515.4" x2="513.7" y2="515.4" stroke="#000" stroke-width="2.6" />
<line x1="377.6" y1="515.4" x2="377.6" y2="519.6" stroke="#000" stroke-width="2.2" />
<text x="377.6" y="527.0" font-size="9.3" text-anchor="middle" font-weight="bold" fill="#000" >0-45 yr</text>
<line x1="467.8" y1="515.4" x2="467.8" y2="519.6" stroke="#000" stroke-width="2.2" />
<text x="467.8" y="527.0" font-size="9.3" text-anchor="middle" font-weight="bold" fill="#000" >46-85 yr</text>
<circle cx="385.0" cy="439.3" r="2.35"/>
<circle cx="377.6" cy="444.7" r="2.35"/>
<circle cx="370.6" cy="459.8" r="2.35"/>
<circle cx="377.6" cy="459.8" r="2.35"/>
<circle cx="355.9" cy="469.6" r="2.35"/>
<circle cx="363.2" cy="469.6" r="2.35"/>
<circle cx="370.6" cy="469.6" r="2.35"/>
<circle cx="381.4" cy="469.6" r="2.35"/>
<circle cx="392.0" cy="469.6" r="2.35"/>
<circle cx="399.2" cy="469.6" r="2.35"/>
<circle cx="377.6" cy="474.7" r="2.35"/>
<circle cx="385.0" cy="474.7" r="2.35"/>
<circle cx="370.6" cy="479.6" r="2.35"/>
<circle cx="377.6" cy="485.2" r="2.35"/>
<circle cx="363.2" cy="490.2" r="2.35"/>
<circle cx="370.6" cy="490.2" r="2.35"/>
<circle cx="392.0" cy="490.2" r="2.35"/>
<circle cx="377.6" cy="495.1" r="2.35"/>
<circle cx="385.0" cy="495.1" r="2.35"/>
<circle cx="355.9" cy="500.4" r="2.35"/>
<circle cx="363.2" cy="500.4" r="2.35"/>
<circle cx="392.0" cy="500.4" r="2.35"/>
<circle cx="399.2" cy="500.4" r="2.35"/>
<circle cx="370.6" cy="505.3" r="2.35"/>
<circle cx="377.6" cy="505.3" r="2.35"/>
<circle cx="385.0" cy="505.3" r="2.35"/>
<circle cx="370.6" cy="510.2" r="2.35"/>
<circle cx="392.0" cy="510.2" r="2.35"/>
<circle cx="377.6" cy="515.4" r="2.35"/>
<circle cx="385.0" cy="515.4" r="2.35"/>
<line x1="346.9" y1="485.6" x2="408.4" y2="485.6" stroke="#000" stroke-width="2.1" />
<circle cx="468.0" cy="413.9" r="2.35"/>
<circle cx="475.1" cy="413.9" r="2.35"/>
<circle cx="460.4" cy="429.5" r="2.35"/>
<circle cx="468.0" cy="429.5" r="2.35"/>
<circle cx="475.1" cy="429.5" r="2.35"/>
<circle cx="468.0" cy="439.5" r="2.35"/>
<circle cx="475.1" cy="439.5" r="2.35"/>
<circle cx="460.4" cy="449.6" r="2.35"/>
<circle cx="468.0" cy="449.6" r="2.35"/>
<circle cx="475.1" cy="449.6" r="2.35"/>
<circle cx="475.1" cy="454.4" r="2.35"/>
<circle cx="468.0" cy="457.0" r="2.35"/>
<circle cx="453.3" cy="459.6" r="2.35"/>
<circle cx="475.1" cy="459.6" r="2.35"/>
<circle cx="460.4" cy="464.7" r="2.35"/>
<circle cx="468.0" cy="464.7" r="2.35"/>
<circle cx="467.8" cy="474.6" r="2.35"/>
<circle cx="475.1" cy="474.6" r="2.35"/>
<circle cx="460.6" cy="479.6" r="2.35"/>
<circle cx="475.1" cy="479.6" r="2.35"/>
<circle cx="467.8" cy="482.9" r="2.35"/>
<circle cx="453.3" cy="490.1" r="2.35"/>
<circle cx="489.7" cy="490.1" r="2.35"/>
<circle cx="460.6" cy="495.1" r="2.35"/>
<circle cx="467.8" cy="495.1" r="2.35"/>
<circle cx="475.1" cy="495.1" r="2.35"/>
<circle cx="482.4" cy="495.1" r="2.35"/>
<circle cx="460.6" cy="505.2" r="2.35"/>
<circle cx="467.8" cy="505.2" r="2.35"/>
<circle cx="460.6" cy="510.3" r="2.35"/>
<circle cx="467.8" cy="515.3" r="2.35"/>
<circle cx="475.1" cy="515.3" r="2.35"/>
<line x1="437.3" y1="468.8" x2="498.9" y2="468.8" stroke="#000" stroke-width="2.1" />
</svg>
</body></html>
